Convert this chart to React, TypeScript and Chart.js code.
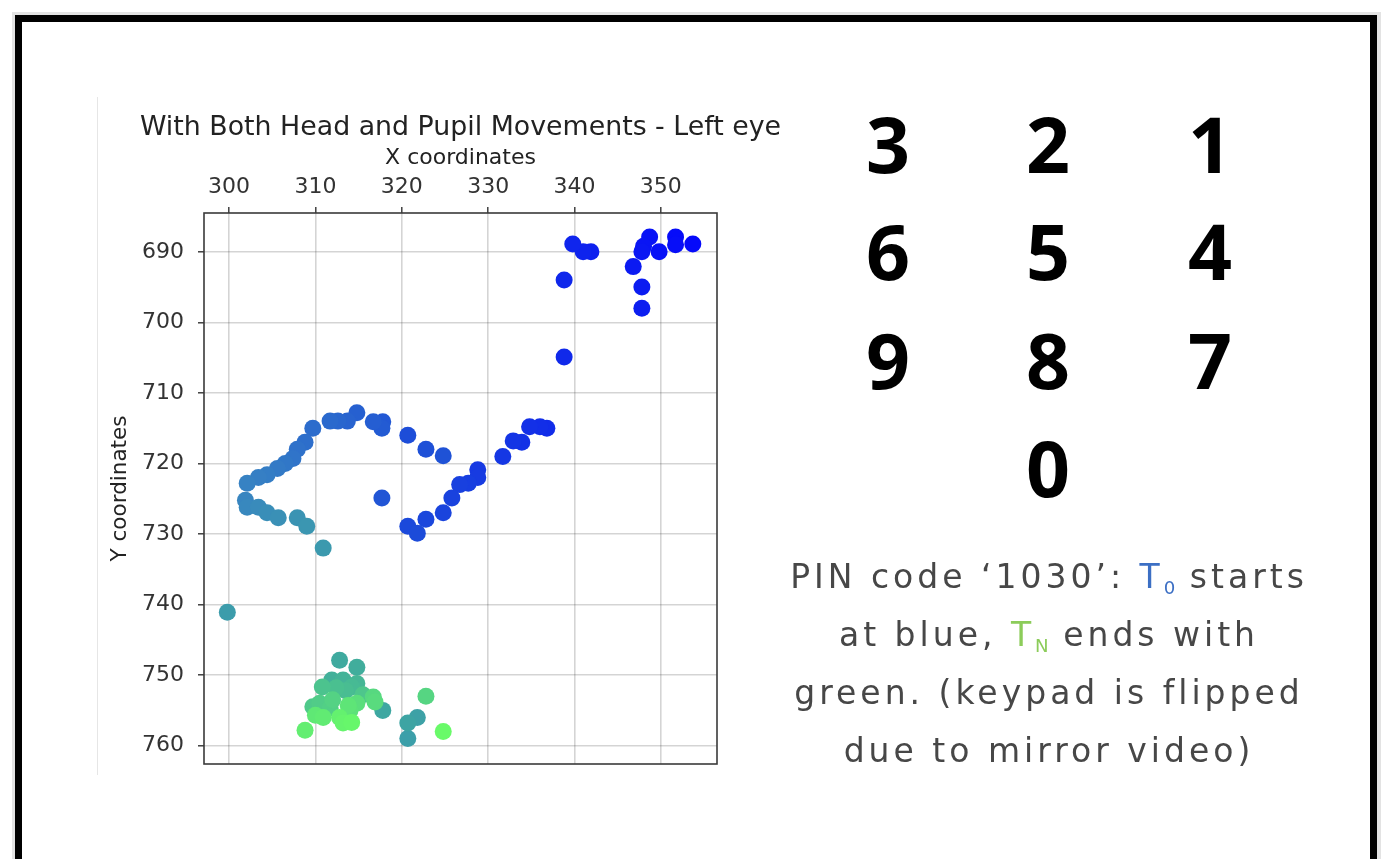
import React, { useEffect, useRef } from "react";
import { Chart, registerables } from "chart.js";

Chart.register(...registerables);

// ---- data (gaze samples, in time order: blue = T0 ... green = TN) ----
const xValues = [
  353.7, 351.7, 351.7, 349.8, 348.7, 348.0, 347.8, 346.8, 347.8, 347.8, 341.9, 341.0, 339.8, 338.8, 338.8,
  336.8, 336.0, 334.8, 333.9, 332.9, 331.7, 328.8, 328.8, 327.7, 326.7, 325.8, 324.8, 322.8, 320.7, 321.8,
  320.7, 322.8, 324.8, 317.7,
  317.8, 317.7, 316.7, 314.8, 313.7, 312.6, 311.7, 309.7, 308.8, 307.9, 307.4, 306.5, 305.6, 304.4, 303.4, 302.1,
  301.9, 302.1, 303.4, 304.4, 305.7, 307.9, 309.0, 310.9, 299.8,
  320.7, 321.8, 320.7, 317.8, 312.8, 314.8, 311.9, 313.2, 314.8, 314.2, 313.5, 312.4, 310.8, 315.5, 309.7,
  310.5, 311.7, 312.0, 322.8, 316.7, 316.9, 314.8, 314.0, 313.8, 310.0, 310.9, 308.8, 312.8, 313.2, 314.2, 324.8,
];
const yValues = [
  688.9, 687.9, 689.0, 690.0, 687.9, 689.2, 690.0, 692.1, 695.0, 698.0, 690.0, 690.0, 688.9, 694.0, 704.9,
  715.0, 714.8, 714.8, 717.0, 716.8, 719.0, 720.9, 722.0, 722.8, 723.0, 724.9, 727.0, 727.9, 728.9, 729.9,
  716.0, 718.0, 718.9, 724.9,
  714.1, 715.0, 714.1, 712.8, 714.0, 714.0, 714.0, 715.0, 717.0, 718.0, 719.3, 720.0, 720.7, 721.6, 722.0, 722.8,
  725.2, 726.2, 726.2, 727.0, 727.7, 727.7, 728.9, 732.0, 741.1,
  759.0, 756.0, 756.8, 755.0, 747.9, 748.9, 750.7, 750.7, 751.2, 751.7, 752.2, 751.8, 751.7, 752.8, 754.5,
  754.0, 754.7, 753.5, 753.0, 753.1, 753.8, 754.0, 755.0, 754.3, 755.7, 756.0, 757.8, 756.0, 756.8, 756.7, 758.0,
];
const xTicks = [300, 310, 320, 330, 340, 350];
const yTicks = [690, 700, 710, 720, 730, 740, 750, 760];
const xRange = [297.1, 356.5];
const yRange = [684.5, 762.6];

const chartTitle = "With Both Head and Pupil Movements - Left eye";
const xTitle = "X coordinates";
const yTitle = "Y coordinates";

const keypadRows = [
  ["3", "2", "1"],
  ["6", "5", "4"],
  ["9", "8", "7"],
  ["", "0", ""],
];

// ---- styling helpers ----
const colorStops: [number, number[]][] = [
  [0, [5, 10, 250]],
  [0.35, [30, 80, 215]],
  [0.55, [55, 130, 195]],
  [0.7, [62, 168, 160]],
  [1, [105, 250, 105]],
];
function colorAt(t: number): string {
  for (let i = 1; i < colorStops.length; i++) {
    const [t1, c1] = colorStops[i];
    const [t0, c0] = colorStops[i - 1];
    if (t <= t1) {
      const f = (t - t0) / (t1 - t0);
      const c = c0.map((v, k) => Math.round(v + (c1[k] - v) * f));
      return `rgb(${c[0]},${c[1]},${c[2]})`;
    }
  }
  const c = colorStops[colorStops.length - 1][1];
  return `rgb(${c[0]},${c[1]},${c[2]})`;
}

const FONT = "'DejaVu Sans', sans-serif";

const framePlugin = {
  id: "frame",
  afterDatasetsDraw(chart: any) {
    const { ctx, chartArea: a } = chart;
    ctx.save();
    ctx.strokeStyle = "#3a3a3a";
    ctx.lineWidth = 1.6;
    ctx.strokeRect(a.left, a.top, a.right - a.left, a.bottom - a.top);
    ctx.restore();
  },
};

// title centred over the plot area (like matplotlib's axes title)
const centredTitlePlugin = {
  id: "centredTitle",
  afterDraw(chart: any) {
    const { ctx, chartArea: a } = chart;
    ctx.save();
    ctx.font = `normal 26.8px ${FONT}`;
    ctx.fillStyle = "#222";
    ctx.textAlign = "center";
    ctx.textBaseline = "middle";
    ctx.fillText(chartTitle, (a.left + a.right) / 2, 33);
    ctx.restore();
  },
};

function ScatterChart() {
  const ref = useRef<HTMLCanvasElement | null>(null);
  useEffect(() => {
    if (!ref.current) return;
    const n = xValues.length;
    const points = xValues.map((x, i) => ({ x, y: yValues[i] }));
    const colors = xValues.map((_, i) => colorAt(i / (n - 1)));
    const chart = new Chart(ref.current, {
      type: "scatter",
      data: {
        datasets: [
          {
            data: points,
            pointBackgroundColor: colors,
            pointBorderColor: colors,
            pointBorderWidth: 0,
            pointRadius: 8.5,
            pointHoverRadius: 8.5,
          },
        ],
      },
      plugins: [framePlugin, centredTitlePlugin],
      options: {
        responsive: false,
        animation: false,
        layout: { padding: { left: 0, top: 0, right: 107, bottom: 21 } },
        plugins: {
          legend: { display: false },
          tooltip: { enabled: false },
          title: { display: false },
        },
        scales: {
          x: {
            type: "linear",
            position: "top",
            min: xRange[0],
            max: xRange[1],
            afterBuildTicks: (s: any) => {
              s.ticks = xTicks.map((v) => ({ value: v }));
            },
            afterFit: (s: any) => {
              s.height = 118;
              s.paddingLeft = 0;
              s.paddingRight = 0;
            },
            ticks: {
              color: "#333",
              font: { family: FONT, size: 22 },
              padding: 7,
              maxRotation: 0,
              callback: (v: any) => String(v),
            },
            grid: {
              color: "rgba(0,0,0,0.17)",
              lineWidth: 1.6,
              tickColor: "#333",
              tickLength: 6,
              tickWidth: 1.4,
            },
            border: { display: false },
            title: {
              display: true,
              text: xTitle,
              color: "#222",
              font: { family: FONT, size: 22 },
              padding: { top: 49.8, bottom: 0 },
            },
          },
          y: {
            type: "linear",
            reverse: true,
            min: yRange[0],
            max: yRange[1],
            afterBuildTicks: (s: any) => {
              s.ticks = yTicks.map((v) => ({ value: v }));
            },
            afterFit: (s: any) => {
              s.width = 107;
              s.paddingTop = 0;
              s.paddingBottom = 0;
            },
            ticks: {
              color: "#333",
              font: { family: FONT, size: 22 },
              padding: 14,
              callback: (v: any) => String(v),
            },
            grid: {
              color: "rgba(0,0,0,0.17)",
              lineWidth: 1.6,
              tickColor: "#333",
              tickLength: 6,
              tickWidth: 1.4,
            },
            border: { display: false },
            title: {
              display: true,
              text: yTitle,
              color: "#222",
              font: { family: FONT, size: 21.5 },
              padding: { top: 10.1, bottom: 0 },
            },
          },
        },
      },
    });
    return () => chart.destroy();
  }, []);
  return (
    <canvas
      ref={ref}
      width={727}
      height={690}
      style={{ position: "absolute", left: 97, top: 95, width: 727, height: 690 }}
    />
  );
}

const colCenters = [888, 1048, 1210];
const rowCenters = [146, 253, 362, 470];

export default function App() {
  const textLine: React.CSSProperties = {
    height: 58,
    lineHeight: "58px",
    whiteSpace: "nowrap",
  };
  const sub: React.CSSProperties = {
    fontSize: "0.55em",
    position: "relative",
    top: "0.35em",
    letterSpacing: 0,
  };
  return (
    <div
      style={{
        position: "fixed",
        left: 0,
        top: 0,
        width: 1384,
        height: 859,
        background: "#fff",
        overflow: "hidden",
      }}
    >
      <div style={{ position: "absolute", left: 12, top: 12, width: 1369, height: 900, background: "#e3e3e3" }} />
      <div style={{ position: "absolute", left: 15, top: 15, width: 1362, height: 900, background: "#000" }} />
      <div style={{ position: "absolute", left: 22, top: 22, width: 1348, height: 900, background: "#fff" }} />
      <div style={{ position: "absolute", left: 97, top: 97, width: 1, height: 678, background: "#e6e6e6" }} />
      <ScatterChart />
      {keypadRows.map((row, r) =>
        row.map((d, c) =>
          d ? (
            <div
              key={`${r}-${c}`}
              style={{
                position: "absolute",
                left: colCenters[c] - 60,
                top: rowCenters[r] - 41,
                width: 120,
                textAlign: "center",
                fontFamily: "'Open Sans', sans-serif",
                fontWeight: 700,
                fontSize: 77,
                lineHeight: "77px",
                color: "#000",
              }}
            >
              {d}
            </div>
          ) : null
        )
      )}
      <div
        style={{
          position: "absolute",
          left: 749,
          top: 548,
          width: 600,
          textAlign: "center",
          fontFamily: FONT,
          fontSize: 33,
          letterSpacing: 4,
          color: "#474747",
        }}
      >
        <div style={textLine}>
          PIN code ‘1030’: <span style={{ color: "#3c6fc4" }}>T<span style={sub}>0</span></span> starts
        </div>
        <div style={textLine}>
          at blue, <span style={{ color: "#8ccc5a" }}>T<span style={sub}>N</span></span> ends with
        </div>
        <div style={textLine}>green. (keypad is flipped</div>
        <div style={textLine}>due to mirror video)</div>
      </div>
    </div>
  );
}
